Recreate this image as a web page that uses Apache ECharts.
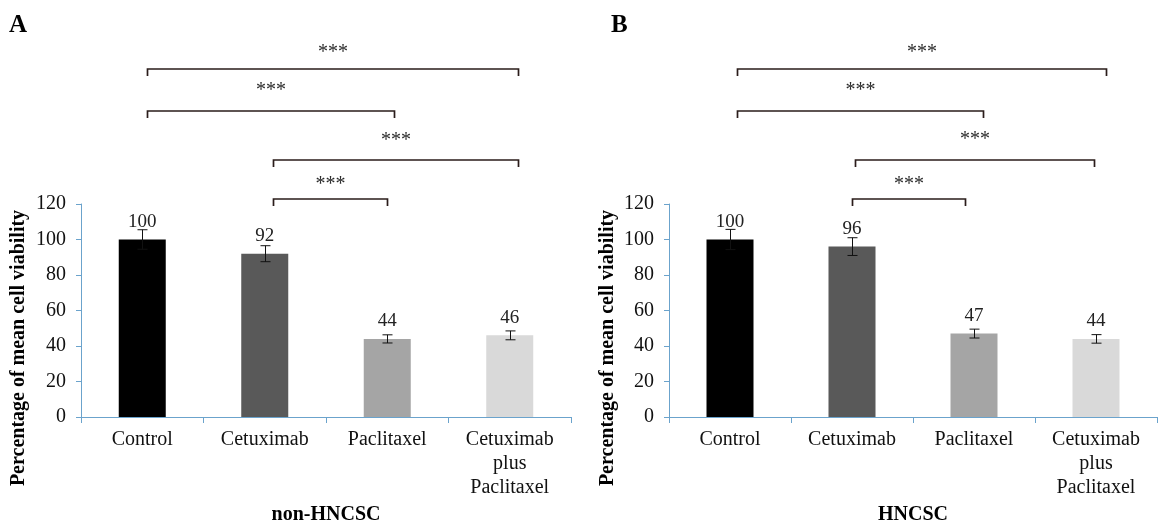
<!DOCTYPE html>
<html><head><meta charset="utf-8">
<script src="https://cdn.jsdelivr.net/npm/echarts@6/dist/echarts.min.js"></script>
<style>html,body{margin:0;padding:0;background:#fff}#c{width:1159px;height:525px}</style>
</head><body><div id="c"></div>
<script>
// ---- data ----
const categories = ['Control', 'Cetuximab', 'Paclitaxel', 'Cetuximab\nplus\nPaclitaxel'];
const yTickMin = 0, yTickMax = 120, yTickStep = 20;
const valuesA = [100, 92, 44, 46];
const errorsA = [5.5, 4.5, 2.3, 2.5];
const valuesB = [100, 96, 47, 44];
const errorsB = [5.7, 5.0, 2.5, 2.4];
// significance brackets: [fromIndex, toIndex, bracketLevel, starLevel]
const bracketsA = [[0, 3, 196, 207], [0, 2, 172.5, 185.5], [1, 3, 145, 157.5], [1, 2, 123, 132.4]];
const bracketsB = [[0, 3, 196, 207], [0, 2, 172.5, 185.5], [1, 3, 145, 158], [1, 2, 123, 132.6]];
const starText = '***';
const panelLetters = ['A', 'B'];
const groupNames = ['non-HNCSC', 'HNCSC'];
const yAxisName = 'Percentage of mean cell viability';

// ---- styles / layout ----
const barColors = ['#000000', '#595959', '#a5a5a5', '#d9d9d9'];
const FONT = '"Liberation Serif", "Times New Roman", serif';
const axisColor = '#6ba3cc';
const nudgeA = [[5, 8], [5, 7], [8, 8], [8, 0]];
const nudgeB = [[7, 10], [7, 9], [3, -2], [0, -9]];

const chart = echarts.init(document.getElementById('c'), null, {renderer: 'canvas'});

function bracketRender(nudges) {
  return function (params, api) {
    const i = params.dataIndex;
    const from = api.value(0), to = api.value(1), lvl = api.value(2), sl = api.value(3);
    const p1 = api.coord([from, lvl]), p2 = api.coord([to, lvl]);
    const x1 = Math.round(p1[0] + nudges[i][0]) + 0.5;
    const x2 = Math.round(p2[0] + nudges[i][1]) + 0.5;
    const y = Math.round(p1[1]);
    const sy = api.coord([from, sl])[1];
    return {
      type: 'group',
      children: [
        {type: 'polyline', shape: {points: [[x1, y + 7], [x1, y], [x2, y], [x2, y + 7]]},
          style: {stroke: '#2a1c1a', lineWidth: 1.7, fill: null}},
        {type: 'text', style: {text: starText, x: (x1 + x2) / 2, y: sy + 3, align: 'center',
          verticalAlign: 'middle', fontSize: 20, fontFamily: FONT, fill: '#2b2b2b'}}
      ]
    };
  };
}

function errRender(params, api) {
  const i = api.value(0), v = api.value(1), e = api.value(2);
  const top = api.coord([i, v + e]), bot = api.coord([i, v - e]);
  const x = Math.round(top[0]) + 0.5, w = 5;
  const st = {stroke: '#111', lineWidth: 1};
  return {
    type: 'group',
    children: [
      {type: 'line', shape: {x1: x, y1: top[1], x2: x, y2: bot[1]}, style: st},
      {type: 'line', shape: {x1: x - w, y1: top[1], x2: x + w, y2: top[1]}, style: st},
      {type: 'line', shape: {x1: x - w, y1: bot[1], x2: x + w, y2: bot[1]}, style: st}
    ]
  };
}

const grids = [
  {left: 81, width: 490, top: 204, height: 213, outerBoundsMode: 'none', containLabel: false},
  {left: 669, width: 488, top: 204, height: 213, outerBoundsMode: 'none', containLabel: false}
];

function xAxis(gi) {
  return {
    type: 'category', gridIndex: gi, data: categories,
    axisLine: {lineStyle: {color: axisColor, width: 1}},
    axisTick: {show: true, length: 6, lineStyle: {color: axisColor}},
    axisLabel: {color: '#111', fontSize: 20, fontFamily: FONT, margin: 11, lineHeight: 24, interval: 0},
    name: groupNames[gi], nameLocation: 'middle', nameGap: 88,
    nameTextStyle: {color: '#000', fontSize: 20, fontWeight: 'bold', fontFamily: FONT}
  };
}
function yAxis(gi) {
  return {
    type: 'value', gridIndex: gi, min: yTickMin, max: yTickMax, interval: yTickStep,
    axisLine: {show: true, lineStyle: {color: axisColor, width: 1}},
    axisTick: {show: true, length: 5, lineStyle: {color: axisColor}},
    splitLine: {show: false},
    axisLabel: {color: '#111', fontSize: 20, fontFamily: FONT, margin: 15}
  };
}

function barSeries(gi, vals) {
  return {
    type: 'bar', xAxisIndex: gi, yAxisIndex: gi, barWidth: 47,
    data: vals.map((v, i) => ({value: v, itemStyle: {color: barColors[i]}})),
    label: {show: true, position: 'top', distance: 8, color: '#222', fontSize: 19, fontFamily: FONT},
    z: 2
  };
}
function errSeries(gi, vals, errs) {
  return {
    type: 'custom', xAxisIndex: gi, yAxisIndex: gi, renderItem: errRender,
    encode: {x: 0, y: 1},
    data: vals.map((v, i) => [i, v, errs[i]]), z: 5, silent: true
  };
}
function bracketSeries(gi, br, nudges) {
  return {
    type: 'custom', xAxisIndex: gi, yAxisIndex: gi, renderItem: bracketRender(nudges),
    encode: {x: 0, y: 2}, clip: false,
    data: br, z: 5, silent: true
  };
}

const option = {
  backgroundColor: '#fff',
  animation: false,
  grid: grids,
  xAxis: [xAxis(0), xAxis(1)],
  yAxis: [yAxis(0), yAxis(1)],
  series: [
    barSeries(0, valuesA), errSeries(0, valuesA, errorsA), bracketSeries(0, bracketsA, nudgeA),
    barSeries(1, valuesB), errSeries(1, valuesB, errorsB), bracketSeries(1, bracketsB, nudgeB)
  ],
  graphic: [
    {type: 'text', x: 9, y: 13, style: {text: panelLetters[0], fontSize: 25, fontWeight: 'bold', fontFamily: FONT, fill: '#000'}},
    {type: 'text', x: 611, y: 13, style: {text: panelLetters[1], fontSize: 25, fontWeight: 'bold', fontFamily: FONT, fill: '#000'}},
    {type: 'text', x: 19, y: 348, rotation: Math.PI / 2,
      style: {text: yAxisName, align: 'center', verticalAlign: 'middle', fontSize: 20, fontWeight: 'bold', fontFamily: FONT, fill: '#000'}},
    {type: 'text', x: 608, y: 348, rotation: Math.PI / 2,
      style: {text: yAxisName, align: 'center', verticalAlign: 'middle', fontSize: 20, fontWeight: 'bold', fontFamily: FONT, fill: '#000'}}
  ]
};
chart.setOption(option);
</script>
</body></html>
